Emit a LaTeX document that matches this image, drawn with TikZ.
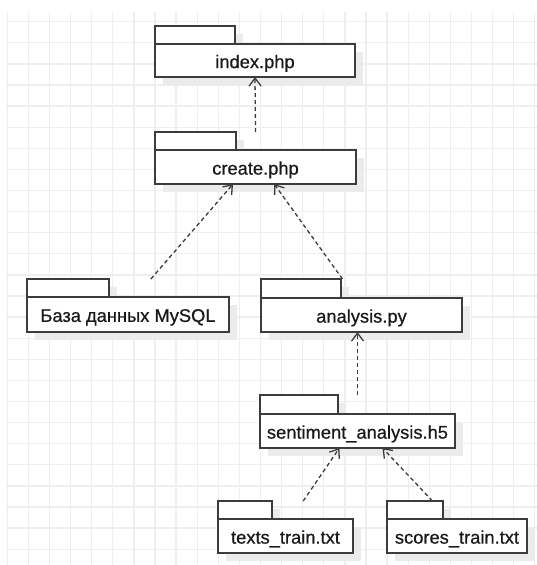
\documentclass[tikz,border=0pt]{standalone}
\usepackage{fontspec}
\setmainfont{Liberation Sans}
\newfontfamily\pkgfont[FakeBold=0.6]{Liberation Sans}
\usetikzlibrary{arrows.meta}

\definecolor{gridgray}{HTML}{EEEEEE}
\definecolor{shadowgray}{HTML}{EBEBEB}
\definecolor{strokegray}{HTML}{3C3C3C}

\tikzset{
  pkgline/.style={draw=strokegray, line width=1.6pt},
  pkgshadow/.style={fill=shadowgray},
  pkgbody/.style={pkgline, fill=white, inner sep=0pt, outer sep=0pt,
    font=\pkgfont\fontsize{18.3}{20}\selectfont, text=black!90},
  pkgbound/.style={inner sep=0pt, outer sep=0pt},
  dep/.style={draw=strokegray, line width=1.3pt, dash pattern=on 4pt off 3pt,
    -{Straight Barb[length=8pt, width=12pt, line width=1.3pt]}},
}

% #1 name, #2 left, #3 tab top, #4 body top, #5 right, #6 bottom, #7 tab right, #8 label
\newcommand\umlpackage[8]{%
  \fill[pkgshadow] (#2+8,#3+8) rectangle (#7+8,#4+8);
  \fill[pkgshadow] (#2+8,#4+8) rectangle (#5+8,#6+8);
  \draw[pkgline, fill=white] (#2,#3) rectangle (#7,#4);
  \node[pkgbody, minimum width={(#5-#2)*1pt}, minimum height={(#6-#4)*1pt},
        text depth=0pt]
    (#1body) at ({(#2+#5)/2},{(#4+#6)/2}) {\raisebox{-2pt}{#8}};
  \node[pkgbound, minimum width={(#5-#2)*1pt}, minimum height={(#6-#3)*1pt}]
    (#1) at ({(#2+#5)/2},{(#3+#6)/2}) {};
}

\begin{document}
\begin{tikzpicture}[x=1pt, y=-1pt]
  \useasboundingbox (0,0) rectangle (537,565);
  \fill[white] (0,0) rectangle (537,565);

  % background grid
  \begin{scope}[draw=gridgray, line width=1.3pt]
    \foreach \i in {0,...,25}
      \draw ({7.3+21.1*\i},12) -- ({7.3+21.1*\i},565);
    \foreach \j in {0,...,25}
      \draw (6,{21.7+21.1*\j}) -- (537,{21.7+21.1*\j});
  \end{scope}

  % packages
  \umlpackage{index}{155}{26}{44}{355}{77}{235}{index.php}
  \umlpackage{create}{155}{132}{150}{356}{184}{236}{create.php}
  \umlpackage{mysql}{27}{279}{297}{229}{332}{109}{База данных MySQL}
  \umlpackage{analysis}{261}{279}{298}{462}{332}{341}{analysis.py}
  \umlpackage{sent}{260}{395}{414}{455}{448}{338}{sentiment\_analysis.h5}
  \umlpackage{texts}{218}{501}{519}{353}{553}{272}{texts\_train.txt}
  \umlpackage{scores}{387}{501}{519}{527}{553}{443}{scores\_train.txt}

  % dependencies
  \draw[dep] (create.north) -- (index.south);
  \draw[dep] (mysql) -- (create);
  \draw[dep] (analysis) -- (create);
  \draw[dep] (sent.north) -- (sent.north |- analysis.south);
  \draw[dep] (texts) -- (sent);
  \draw[dep] (scores) -- (sent);
\end{tikzpicture}
\end{document}
